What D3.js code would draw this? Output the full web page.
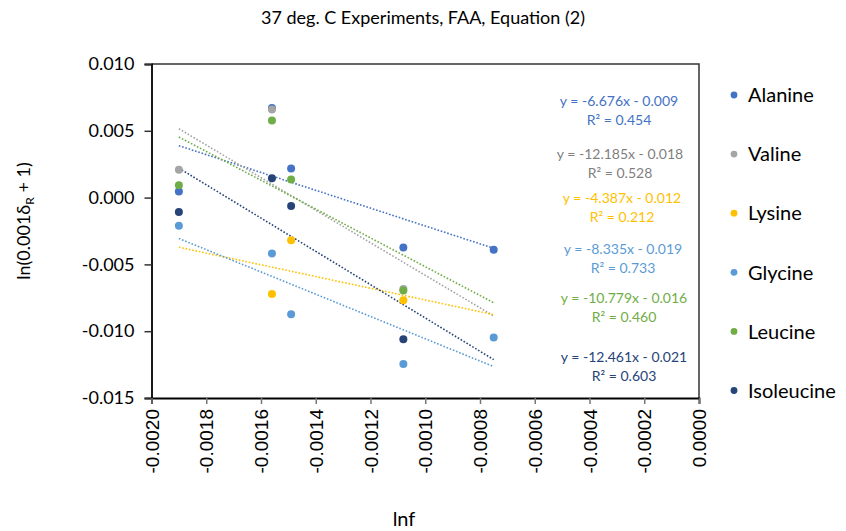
<!DOCTYPE html>
<html lang="en">
  <head>
    <meta charset="UTF-8" />
    <title>37 deg. C Experiments, FAA, Equation (2)</title>
    <script src="https://d3js.org/d3.v7.min.js"></script>
    <style>
      body { margin: 0; background: #fff; }
      text { font-family: Lato, "Noto Sans", sans-serif; fill: #000; }
      .xtick text { font-family: "Liberation Sans", Arial, sans-serif; }
    </style>
  </head>
  <body>
    <svg width="846" height="531"></svg>
    <script>
      // series names and colours (legend order)
      var names = ["Alanine", "Valine", "Lysine", "Glycine", "Leucine", "Isoleucine"];
      var colors = ["#4472C4", "#A5A5A5", "#FFC000", "#5B9BD5", "#70AD47", "#264478"];
      var labelColors = ["#4472C4", "#7F7F7F", "#FFC000", "#5B9BD5", "#70AD47", "#264478"];

      // lnf (x) and ln(0.001dR + 1) (y)
      var alanineX = [-0.0019, -0.00156, -0.00149, -0.00108, -0.00075];
      var alanineY = [0.00046, 0.0067, 0.00218, -0.00373, -0.00391];
      var valineX = [-0.0019, -0.00156, -0.00108];
      var valineY = [0.00208, 0.0066, -0.00685];
      var lysineX = [-0.00156, -0.00149, -0.00108];
      var lysineY = [-0.00721, -0.00319, -0.00768];
      var glycineX = [-0.0019, -0.00156, -0.00149, -0.00108, -0.00075];
      var glycineY = [-0.00211, -0.00418, -0.00873, -0.01245, -0.01048];
      var leucineX = [-0.0019, -0.00156, -0.00149, -0.00108];
      var leucineY = [0.00093, 0.00578, 0.00136, -0.00696];
      var isoleucineX = [-0.0019, -0.00156, -0.00149, -0.00108];
      var isoleucineY = [-0.00107, 0.00144, -0.00062, -0.0106];

      // linear trendlines
      var slopes = [-6.676, -12.185, -4.387, -8.335, -10.779, -12.461];
      var intercepts = [-0.0088, -0.018, -0.01205, -0.0189, -0.01595, -0.02147];
      var fitRange = [-0.0019, -0.00075];
      var eqLabels = [
        "y = -6.676x - 0.009",
        "y = -12.185x - 0.018",
        "y = -4.387x - 0.012",
        "y = -8.335x - 0.019",
        "y = -10.779x - 0.016",
        "y = -12.461x - 0.021"
      ];
      var r2Labels = ["0.454", "0.528", "0.212", "0.733", "0.460", "0.603"];

      var xTicks = [-0.002, -0.0018, -0.0016, -0.0014, -0.0012, -0.001, -0.0008, -0.0006, -0.0004, -0.0002, 0];
      var yTicks = [0.01, 0.005, 0, -0.005, -0.01, -0.015];

      var xs = [alanineX, valineX, lysineX, glycineX, leucineX, isoleucineX];
      var ys = [alanineY, valineY, lysineY, glycineY, leucineY, isoleucineY];
      var series = names.map(function (n, i) {
        return {
          name: n,
          color: colors[i],
          points: xs[i].map(function (x, j) { return { x: x, y: ys[i][j] }; })
        };
      });

      var svg = d3.select("svg");
      var pLeft = 151.5, pRight = 699, pTop = 64, pBottom = 398;

      var x = d3.scaleLinear().domain([-0.002, 0]).range([pLeft, pRight]);
      var y = d3.scaleLinear().domain([-0.015, 0.01]).range([pBottom, pTop]);

      svg.append("text")
        .attr("x", 423)
        .attr("y", 24)
        .attr("text-anchor", "middle")
        .attr("font-size", "18px")
        .text("37 deg. C Experiments, FAA, Equation (2)");

      // plot frame (top and right)
      svg.append("path")
        .attr("d", "M" + pLeft + "," + pTop + "H" + pRight + "V" + pBottom)
        .attr("fill", "none")
        .attr("stroke", "#333")
        .attr("stroke-width", 1.5);

      // y axis
      var yAxis = svg.append("g")
        .attr("transform", "translate(" + pLeft + ",0)")
        .call(d3.axisLeft(y).tickValues(yTicks).tickSize(7).tickPadding(10)
          .tickFormat(function (d) { return d.toFixed(3); }));
      yAxis.select(".domain").attr("stroke", "#000").attr("stroke-width", 1.8);
      yAxis.selectAll(".tick line").attr("stroke", "#333").attr("stroke-width", 1.5);
      yAxis.selectAll(".tick text").attr("font-size", "18px").attr("font-family", "Lato, sans-serif").attr("fill", "#000");

      // x axis
      var xAxis = svg.append("g")
        .attr("class", "xtick")
        .attr("transform", "translate(0," + pBottom + ")")
        .call(d3.axisBottom(x).tickValues(xTicks).tickSize(6)
          .tickFormat(function (d) { return d.toFixed(4); }));
      xAxis.select(".domain").attr("stroke", "#000").attr("stroke-width", 1.8);
      xAxis.selectAll(".tick line").attr("stroke", "#777").attr("stroke-width", 1.5);
      xAxis.selectAll(".tick text")
        .attr("font-size", "19px")
        .attr("fill", "#000")
        .attr("transform", "rotate(-90)")
        .attr("text-anchor", "end")
        .attr("x", -11)
        .attr("y", 0)
        .attr("dy", "0.35em");

      // trendlines
      var line = d3.line()
        .x(function (d) { return x(d[0]); })
        .y(function (d) { return y(d[1]); });
      svg.append("g")
        .selectAll("path")
        .data(series)
        .enter()
        .append("path")
        .attr("d", function (s, i) {
          return line(fitRange.map(function (v) { return [v, slopes[i] * v + intercepts[i]]; }));
        })
        .attr("fill", "none")
        .attr("stroke", function (s) { return s.color; })
        .attr("stroke-width", 1.6)
        .attr("stroke-dasharray", "1.6,1.8");

      // points
      series.forEach(function (s) {
        svg.append("g")
          .selectAll("circle")
          .data(s.points)
          .enter()
          .append("circle")
          .attr("cx", function (d) { return x(d.x); })
          .attr("cy", function (d) { return y(d.y); })
          .attr("r", 4)
          .attr("fill", s.color);
      });

      // trendline labels
      var labelPos = [[619, 101], [620, 154], [622, 198], [623, 249], [624, 298], [624, 357]];
      var eq = svg.append("g")
        .selectAll("g")
        .data(series)
        .enter()
        .append("g")
        .attr("transform", function (s, i) { return "translate(" + labelPos[i][0] + "," + labelPos[i][1] + ")"; })
        .attr("font-size", "14px")
        .attr("text-anchor", "middle");
      eq.append("text")
        .attr("y", 5)
        .style("fill", function (s, i) { return labelColors[i]; })
        .text(function (s, i) { return eqLabels[i]; });
      eq.append("text")
        .attr("y", 24)
        .style("fill", function (s, i) { return labelColors[i]; })
        .text(function (s, i) { return "R\u00b2 = " + r2Labels[i]; });

      // legend
      var legend = svg.append("g")
        .selectAll("g")
        .data(series)
        .enter()
        .append("g")
        .attr("transform", function (s, i) { return "translate(734," + (95 + i * 59.1) + ")"; });
      legend.append("circle")
        .attr("r", 3.4)
        .attr("fill", function (s) { return s.color; });
      legend.append("text")
        .attr("x", 14)
        .attr("dy", "0.36em")
        .attr("font-size", "20px")
        .text(function (s) { return s.name; });

      // axis titles
      svg.append("text")
        .attr("x", 404)
        .attr("y", 526)
        .attr("text-anchor", "middle")
        .attr("font-size", "20px")
        .text("lnf");

      var yt = svg.append("text")
        .attr("transform", "translate(30,221) rotate(-90)")
        .attr("text-anchor", "middle")
        .attr("font-size", "18px");
      yt.append("tspan").text("ln(0.001\u03b4");
      yt.append("tspan").attr("font-size", "12px").attr("dy", 4).text("R");
      yt.append("tspan").attr("dy", -4).text(" + 1)");
    </script>
  </body>
</html>
